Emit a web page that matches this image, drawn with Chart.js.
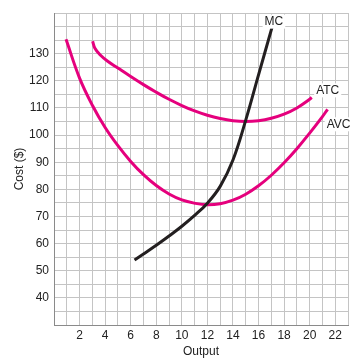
<!DOCTYPE html>
<html><head><meta charset="utf-8">
<script src="https://cdn.jsdelivr.net/npm/chart.js@4.4.1/dist/chart.umd.min.js"></script>
<style>html,body{margin:0;padding:0;background:#fff;}</style>
</head><body>
<canvas id="c" width="361" height="360"></canvas>
<script>
// ---- data ----
const mcX  = [6.3, 7, 8, 9, 10, 11, 12, 13, 14, 15, 16, 17.05];
const mcY  = [54, 56.2, 59.4, 62.8, 66.4, 70.4, 74.9, 81.1, 90.8, 105.5, 122.2, 139.6];
const atcX = [3.02, 3.2, 3.6, 4.2, 5, 6, 7, 8, 9, 10, 11, 12, 13, 14, 15, 16, 17, 18, 19, 20, 20.16];
const atcY = [134.6, 132, 129.6, 127.2, 124.7, 121.6, 118.6, 115.8, 113.2, 110.9, 108.9, 107.3, 106.1, 105.3, 105.0, 105.3, 106.2, 107.7, 110.0, 113.2, 113.9];
const avcX = [0.94, 2, 3, 4, 5, 6, 7, 8, 9, 10, 11, 12, 13, 14, 15, 16, 17, 18, 19, 20, 21, 21.4];
const avcY = [135.3, 121, 111, 102.8, 96.1, 90.3, 85.4, 81.4, 78.3, 76.1, 74.9, 74.3, 74.7, 76.0, 78.2, 81.3, 85.2, 89.8, 95.0, 100.7, 106.8, 109.5];
const seriesNames = ['MC', 'ATC', 'AVC'];
const xTickLabels = [2, 4, 6, 8, 10, 12, 14, 16, 18, 20, 22];
const yTickLabels = [40, 50, 60, 70, 80, 90, 100, 110, 120, 130];

const pts = (xs, ys) => xs.map((x, i) => ({x, y: ys[i]}));
const MAGENTA = '#e5007d';
const FONT = "'Liberation Sans', Arial, sans-serif";

// end-of-curve labels drawn with white backgrounds
const labelPlugin = {
  id: 'curveLabels',
  afterDatasetsDraw(chart) {
    const ctx = chart.ctx;
    const offsets = {MC: [2, -6], ATC: [16, -7], AVC: [11, 15]};
    chart.data.datasets.forEach((ds) => {
      const last = ds.data[ds.data.length - 1];
      const px = chart.scales.x.getPixelForValue(last.x) + offsets[ds.label][0];
      const py = chart.scales.y.getPixelForValue(last.y) + offsets[ds.label][1];
      ctx.save();
      ctx.font = '12px ' + FONT;
      const w = ctx.measureText(ds.label).width;
      ctx.fillStyle = '#fff';
      ctx.fillRect(px - w / 2 - 2, py - 7, w + 4, 14);
      ctx.fillStyle = '#222';
      ctx.textAlign = 'center';
      ctx.textBaseline = 'middle';
      ctx.fillText(ds.label, px, py + 0.5);
      ctx.restore();
    });
  }
};

new Chart(document.getElementById('c'), {
  type: 'line',
  data: {
    datasets: [
      {label: seriesNames[0], data: pts(mcX, mcY), borderColor: '#231f20'},
      {label: seriesNames[1], data: pts(atcX, atcY), borderColor: MAGENTA},
      {label: seriesNames[2], data: pts(avcX, avcY), borderColor: MAGENTA}
    ].map(d => Object.assign(d, {
      borderWidth: 3, pointRadius: 0, pointHoverRadius: 0, fill: false,
      tension: 0.4, borderCapStyle: 'butt'
    }))
  },
  options: {
    responsive: false, animation: false, events: [],
    layout: {padding: {top: 13, right: 13, left: 0, bottom: 0}},
    plugins: {legend: {display: false}, tooltip: {enabled: false}},
    scales: {
      x: {
        type: 'linear', min: 0, max: 23,
        afterFit: s => { s.height = 35; },
        ticks: {
          stepSize: 1, autoSkip: false, maxRotation: 0, padding: 3,
          color: '#222', font: {family: FONT, size: 12},
          callback: v => xTickLabels.includes(v) ? String(v) : ''
        },
        grid: {color: '#c4c4c4', lineWidth: 1, drawTicks: false},
        border: {color: '#8a8a8a', width: 1},
        title: {display: true, text: 'Output', color: '#222',
                font: {family: FONT, size: 12}, padding: {top: 0, bottom: 1}}
      },
      y: {
        type: 'linear', min: 30, max: 145,
        afterFit: s => { s.width = 54; },
        ticks: {
          stepSize: 5, autoSkip: false, padding: 5,
          color: '#222', font: {family: FONT, size: 12},
          callback: v => yTickLabels.includes(v) ? String(v) : ''
        },
        grid: {color: '#c4c4c4', lineWidth: 1, drawTicks: false},
        border: {color: '#8a8a8a', width: 1},
        title: {display: true, text: 'Cost ($)', color: '#222',
                font: {family: FONT, size: 12}, padding: {top: 12, bottom: 0}}
      }
    }
  },
  plugins: [labelPlugin]
});
</script>
</body></html>
